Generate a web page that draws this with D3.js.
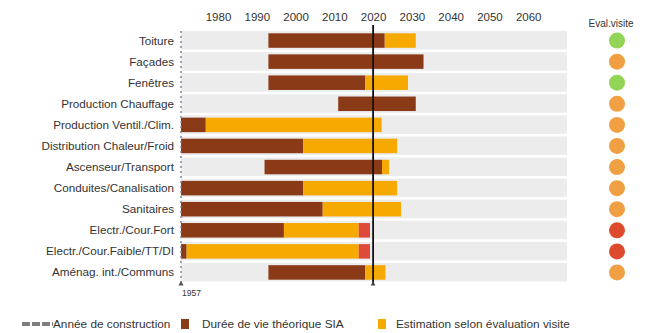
<!DOCTYPE html>
<html>
<head>
    <meta charset="UTF-8" />
    <title>Durée de vie des éléments</title>
    <script src="https://cdn.jsdelivr.net/npm/d3@7"></script>
    <style>
        body { margin: 0; background: #fff; }
        svg text { font-family: "Liberation Sans", Arial, sans-serif; fill: #333; }
    </style>
</head>
<body>
<div id="chart"></div>
<script>
    const categories = ['Toiture', 'Façades', 'Fenêtres', 'Production Chauffage', 'Production Ventil./Clim.',
        'Distribution Chaleur/Froid', 'Ascenseur/Transport', 'Conduites/Canalisation', 'Sanitaires',
        'Electr./Cour.Fort', 'Electr./Cour.Faible/TT/DI', 'Aménag. int./Communs'];
    const startYears = [1993, 1993, 1993, 2011, 1957, 1957, 1992, 1957, 1957, 1957, 1957, 1993];
    const siaEnd = [2023, 2033, 2018, 2031, 1972.4, 2002, 2022.3, 2002, 2007, 1997, 1960.5, 2018];
    const visitEnd = [2031, null, 2029, null, 2022.2, 2026.2, 2024.1, 2026.2, 2027.2, 2016.3, 2016.3, 2023.2];
    const overdueEnd = [null, null, null, null, null, null, null, null, null, 2019.2, 2019.2, null];
    const evaluations = ['good', 'medium', 'good', 'medium', 'medium', 'medium', 'medium', 'medium', 'medium', 'bad', 'bad', 'medium'];
    const tickYears = [1980, 1990, 2000, 2010, 2020, 2030, 2040, 2050, 2060];
    const constructionYear = 1957;
    const currentYear = 2020;
    const lastYear = 2070;

    const w = 646;
    const h = 333;
    const brown = '#8b3a18';
    const orange = '#f6a900';
    const red = '#de4b3a';
    const evalColors = { good: '#92d455', medium: '#f0a043', bad: '#de4a2c' };

    // axis labels are evenly spaced, construction year sits closer
    const xScale = d3.scaleLinear()
        .domain([constructionYear, 1980, lastYear])
        .range([181, 218, 567]);

    const yScale = d3.scaleBand()
        .domain(categories)
        .range([30, 283]);

    const svg = d3.select('#chart')
        .append('svg')
        .attr('width', w)
        .attr('height', h);

    const rows = categories.map((c, i) => ({
        name: c, start: startYears[i], sia: siaEnd[i], visit: visitEnd[i], over: overdueEnd[i], ev: evaluations[i]
    }));

    // grey row backgrounds
    svg.append('g')
        .selectAll('rect')
        .data(rows)
        .enter()
        .append('rect')
        .attr('x', xScale(constructionYear))
        .attr('y', d => yScale(d.name) + 1)
        .attr('width', xScale(lastYear) - xScale(constructionYear))
        .attr('height', yScale.bandwidth() - 2.5)
        .attr('fill', '#ececec');

    const barH = 14.5;
    const barY = d => yScale(d.name) + (yScale.bandwidth() - barH) / 2;

    const segments = [];
    rows.forEach(d => {
        segments.push({ row: d, from: d.start, to: d.sia, color: brown });
        if (d.visit) segments.push({ row: d, from: d.sia, to: d.visit, color: orange });
        if (d.over) segments.push({ row: d, from: d.visit, to: d.over, color: red });
    });

    svg.append('g')
        .selectAll('rect')
        .data(segments)
        .enter()
        .append('rect')
        .attr('x', d => xScale(d.from))
        .attr('y', d => barY(d.row))
        .attr('width', d => xScale(d.to) - xScale(d.from))
        .attr('height', barH)
        .attr('fill', d => d.color);

    // category labels
    svg.append('g')
        .selectAll('text')
        .data(rows)
        .enter()
        .append('text')
        .attr('x', 174)
        .attr('y', d => yScale(d.name) + yScale.bandwidth() / 2 + 4)
        .attr('text-anchor', 'end')
        .style('font-size', '11.7px')
        .text(d => d.name);

    // top axis
    const xAxis = d3.axisTop(xScale)
        .tickValues(tickYears)
        .tickSize(0)
        .tickFormat(d3.format('d'));

    svg.append('g')
        .attr('transform', 'translate(0,24)')
        .call(xAxis)
        .call(g => g.select('.domain').remove())
        .selectAll('text')
        .style('font-size', '11.5px')
        .attr('fill', '#333');

    // construction year dashed line
    svg.append('line')
        .attr('x1', xScale(constructionYear))
        .attr('x2', xScale(constructionYear))
        .attr('y1', 31)
        .attr('y2', 283)
        .attr('stroke', '#7d879a')
        .attr('stroke-width', 1.5)
        .attr('stroke-dasharray', '2,3');

    svg.append('path')
        .attr('d', d3.symbol(d3.symbolTriangle, 12)())
        .attr('transform', `translate(${xScale(constructionYear)},284)`)
        .attr('fill', '#555');

    svg.append('text')
        .attr('x', xScale(constructionYear) + 1)
        .attr('y', 296)
        .style('font-size', '8.5px')
        .text(constructionYear);

    // current year line
    svg.append('line')
        .attr('x1', xScale(currentYear))
        .attr('x2', xScale(currentYear))
        .attr('y1', 25)
        .attr('y2', 284)
        .attr('stroke', '#111')
        .attr('stroke-width', 1.8);

    svg.append('path')
        .attr('d', d3.symbol(d3.symbolTriangle, 10)())
        .attr('transform', `translate(${xScale(currentYear)},284)`)
        .attr('fill', '#444');

    // evaluation column
    svg.append('text')
        .attr('x', 611)
        .attr('y', 27)
        .attr('text-anchor', 'middle')
        .style('font-size', '10px')
        .attr('fill', '#555')
        .text('Eval.visite');

    svg.append('g')
        .selectAll('circle')
        .data(rows)
        .enter()
        .append('circle')
        .attr('cx', 617)
        .attr('cy', d => yScale(d.name) + yScale.bandwidth() / 2)
        .attr('r', 8)
        .attr('fill', d => evalColors[d.ev]);

    // legend
    const legend = svg.append('g').attr('transform', 'translate(0,324)');

    legend.append('line')
        .attr('x1', 22).attr('x2', 53)
        .attr('y1', 0).attr('y2', 0)
        .attr('stroke', '#7f7f7f')
        .attr('stroke-width', 4)
        .attr('stroke-dasharray', '8,2');
    legend.append('text').attr('x', 53).attr('y', 4).style('font-size', '11.8px').text('Année de construction');

    legend.append('rect').attr('x', 181).attr('y', -5).attr('width', 8).attr('height', 10).attr('fill', brown);
    legend.append('text').attr('x', 202).attr('y', 4).style('font-size', '11.8px').text('Durée de vie théorique SIA');

    legend.append('rect').attr('x', 378).attr('y', -5).attr('width', 8).attr('height', 10).attr('fill', orange);
    legend.append('text').attr('x', 396).attr('y', 4).style('font-size', '11.8px').text('Estimation selon évaluation visite');
</script>
</body>
</html>
